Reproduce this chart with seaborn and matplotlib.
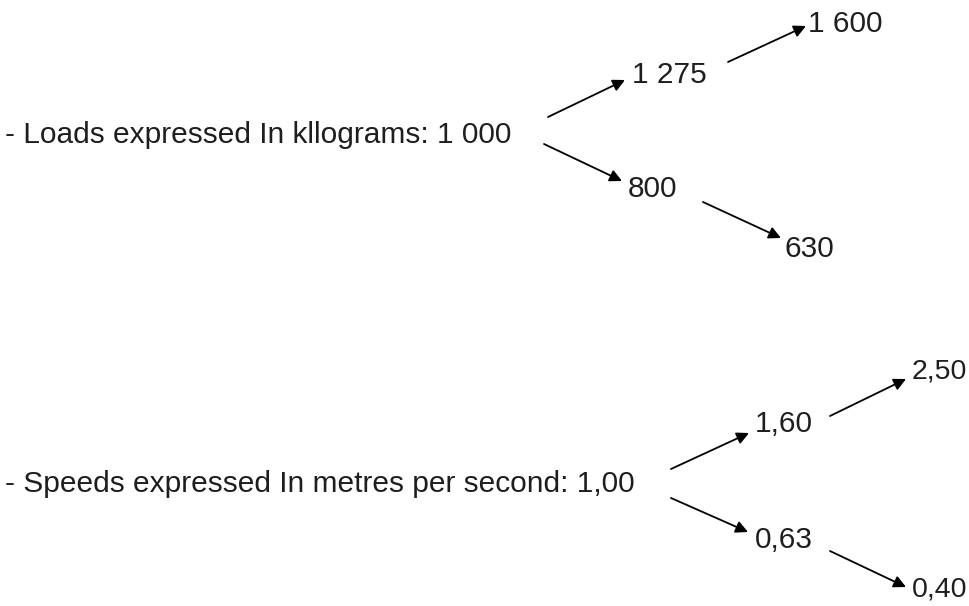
import matplotlib
matplotlib.use("Agg")
import matplotlib.pyplot as plt
import seaborn as sns

# Values shown in the two branching diagrams
load_labels = ["- Loads expressed In kllograms: 1 000", "1 275", "1 600", "800", "630"]
speed_labels = ["- Speeds expressed In metres per second: 1,00", "1,60", "2,50", "0,63", "0,40"]

# text anchor positions (pixels, left / baseline)
load_pos = [(5, 143), (632, 83), (808, 32), (628, 197), (785, 257)]
speed_pos = [(5, 492), (755, 432), (912, 378), (755, 548), (912, 597)]
# last column of speeds is drawn a touch smaller so it stays inside the frame
speed_sizes = [21.5, 21.5, 20.5, 21.5, 20.5]

# arrows: (start, end)
load_arrows = [((548, 117), (625, 80)), ((728, 62), (806, 26)),
               ((544, 144), (622, 181)), ((703, 202), (781, 238))]
speed_arrows = [((671, 469), (749, 433)), ((830, 416), (906, 379)),
                ((671, 498), (748, 532)), ((830, 551), (906, 587))]

sns.set_style("white")
plt.rcParams['font.family'] = ['Liberation Sans', 'DejaVu Sans']

fig = plt.figure(figsize=(9.7, 6.06), dpi=100)
ax = fig.add_axes([0, 0, 1, 1])
ax.set_xlim(0, 970)
ax.set_ylim(606, 0)
ax.axis('off')

for lab, (x, y) in zip(load_labels, load_pos):
    ax.text(x, y, lab, ha='left', va='baseline', fontsize=21.5, color='#1e1e1e')
for lab, (x, y), fs in zip(speed_labels, speed_pos, speed_sizes):
    ax.text(x, y, lab, ha='left', va='baseline', fontsize=fs, color='#1e1e1e')

for (x0, y0), (x1, y1) in load_arrows + speed_arrows:
    ax.annotate('', xy=(x1, y1), xytext=(x0, y0),
                arrowprops=dict(arrowstyle='-|>', color='black', lw=1.3,
                                mutation_scale=18, shrinkA=0, shrinkB=0))

fig.savefig('out.png', dpi=100, facecolor='white')
